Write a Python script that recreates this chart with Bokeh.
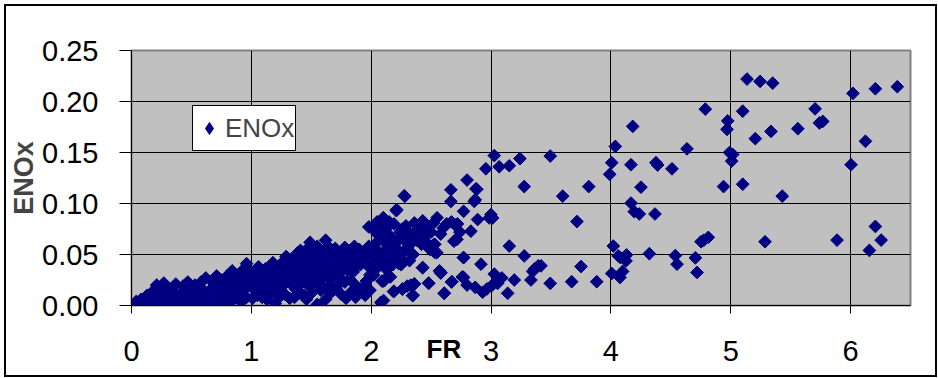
import math
from bokeh.plotting import figure
from bokeh.models import (ColumnDataSource, FixedTicker, NumeralTickFormatter, LinearAxis,
                          CustomJSTickFormatter, Legend, LegendItem, Range1d)
from bokeh.embed import file_html
from bokeh.resources import INLINE

# ---- data ----
fr_a = [0.02,0.06,0.10,0.14,0.18,0.22,0.26,0.30,0.34,0.38,0.42,0.46,0.50,0.55,0.60,0.64,0.68,0.72,0.76,0.80,0.84,0.88,0.92,0.96]
en_a = [0.001,0.002,0.001,0.003,0.001,0.002,0.000,0.003,0.001,0.004,0.002,0.003,0.004,0.002,0.005,0.001,0.004,0.003,0.006,0.002,0.005,0.007,0.004,0.008]
fr_b = [0.08,0.12,0.16,0.20,0.24,0.28,0.32,0.36,0.40,0.44,0.48,0.52,0.56,0.60,0.64,0.68,0.72,0.76,0.80,0.84,0.88,0.92,0.96]
en_b = [0.006,0.008,0.007,0.010,0.008,0.011,0.009,0.012,0.010,0.013,0.011,0.014,0.012,0.015,0.013,0.016,0.014,0.017,0.015,0.019,0.016,0.020,0.018]
fr_c = [0.17,0.21,0.27,0.31,0.37,0.43,0.47,0.53,0.58,0.62,0.67,0.71,0.75,0.79,0.84,0.87,0.90,0.94,0.96,0.99]
en_c = [0.013,0.020,0.022,0.017,0.021,0.019,0.023,0.020,0.023,0.027,0.024,0.029,0.025,0.028,0.034,0.027,0.031,0.036,0.041,0.030]
fr_c2 = [0.04,0.09,0.13,0.19,0.23,0.29,0.33,0.39,0.45,0.51,0.57,0.63,0.69,0.74,0.78,0.82,0.86,0.91,0.95,0.98]
en_c2 = [0.004,0.003,0.010,0.005,0.015,0.006,0.016,0.007,0.016,0.008,0.018,0.009,0.020,0.010,0.021,0.011,0.024,0.012,0.026,0.022]

fr_d = [1.01,1.05,1.09,1.13,1.17,1.20,1.24,1.28,1.32,1.36,1.40,1.44,1.46,1.50,1.55,1.58,1.62,1.66,1.71,1.75,1.79,1.83,1.87,1.91,1.95,1.99]
en_d = [0.007,0.010,0.008,0.006,0.012,0.002,0.009,0.011,0.007,0.008,0.013,0.010,0.006,0.012,0.001,0.015,0.006,0.012,0.016,0.011,0.007,0.013,0.008,0.014,0.010,0.015]
fr_e = [1.02,1.06,1.10,1.14,1.18,1.22,1.26,1.30,1.34,1.38,1.42,1.46,1.50,1.54,1.58,1.62,1.66,1.70,1.74,1.78,1.82,1.86,1.96,1.99]
en_e = [0.016,0.019,0.015,0.021,0.018,0.022,0.019,0.024,0.020,0.026,0.022,0.027,0.024,0.028,0.025,0.029,0.026,0.031,0.027,0.023,0.026,0.021,0.024,0.030]
fr_e2 = [1.04,1.08,1.16,1.21,1.25,1.33,1.37,1.45,1.49,1.53,1.57,1.61,1.65,1.69,1.73,1.77,1.81,1.85,1.89,1.97]
en_e2 = [0.022,0.024,0.026,0.028,0.014,0.029,0.016,0.033,0.018,0.034,0.020,0.036,0.019,0.037,0.021,0.036,0.034,0.033,0.049,0.050]
fr_e3 = [1.00,1.04,1.08,1.14,1.20,1.26,1.31,1.36,1.41,1.48,1.56,1.64,1.72,1.80,1.88,1.93]
en_e3 = [0.033,0.034,0.027,0.028,0.036,0.025,0.028,0.041,0.030,0.032,0.034,0.035,0.036,0.037,0.040,0.018]
fr_f = [1.03,1.07,1.11,1.15,1.19,1.23,1.27,1.31,1.35,1.39,1.43,1.47,1.51,1.55,1.59,1.63,1.67,1.71,1.75,1.79,1.83,1.87,1.91,1.95,1.98]
en_f = [0.027,0.031,0.026,0.033,0.029,0.034,0.031,0.036,0.033,0.038,0.035,0.040,0.037,0.041,0.038,0.042,0.039,0.043,0.040,0.044,0.041,0.045,0.040,0.044,0.038]
fr_g = [1.06,1.12,1.18,1.24,1.29,1.33,1.37,1.41,1.45,1.49,1.53,1.57,1.62,1.66,1.70,1.74,1.78,1.82,1.86,1.90,1.94,1.98,1.98]
en_g = [0.038,0.036,0.042,0.040,0.048,0.045,0.049,0.054,0.050,0.062,0.052,0.055,0.064,0.053,0.056,0.052,0.057,0.054,0.058,0.055,0.053,0.058,0.077]
fr_g2 = [1.27,1.35,1.39,1.43,1.47,1.51,1.55,1.59,1.64,1.68,1.72,1.76,1.80,1.84,1.88,1.92,1.96]
en_g2 = [0.043,0.047,0.052,0.046,0.056,0.047,0.058,0.048,0.058,0.049,0.050,0.047,0.049,0.048,0.051,0.050,0.049]

fr_h = [2.01,2.03,2.05,2.05,2.07,2.09,2.10,2.11,2.12,2.14,2.16,2.17,2.19,2.20,2.22,2.21,2.24,2.25,2.27,2.28,2.29,2.31,2.33,2.35,2.36,2.38,2.40,2.42,2.43,2.45,2.47,2.49,2.52,2.55,2.58,2.60,2.63,2.67,2.70,2.72,2.74]
en_h = [0.045,0.060,0.070,0.082,0.052,0.065,0.086,0.040,0.075,0.058,0.068,0.048,0.080,0.062,0.055,0.093,0.072,0.045,0.065,0.107,0.078,0.058,0.070,0.050,0.081,0.064,0.074,0.060,0.083,0.068,0.078,0.055,0.081,0.086,0.070,0.076,0.080,0.082,0.079,0.080,0.072]
fr_h2 = [2.02,2.04,2.08,2.12,2.15,2.18,2.23,2.26,2.30,2.34,2.37,2.41,2.44,2.46,2.50]
en_h2 = [0.055,0.072,0.078,0.062,0.082,0.058,0.064,0.075,0.068,0.062,0.072,0.068,0.074,0.062,0.072]
fr_h3 = [2.01,2.04,2.07,2.11,2.14,2.18,2.21,2.27,2.32]
en_h3 = [0.036,0.050,0.044,0.052,0.047,0.040,0.048,0.052,0.044]
fr_i = [2.02,2.06,2.09,2.08,2.10,2.13,2.16,2.19,2.23,2.25,2.26,2.30,2.33,2.35,2.36,2.43,2.48,2.53,2.53,2.57,2.58,2.61,2.67,2.69,2.71,2.76,2.77,2.80]
en_i = [0.030,0.038,0.024,0.003,0.024,0.035,0.028,0.014,0.041,0.040,0.016,0.019,0.020,0.010,0.021,0.037,0.022,0.052,0.060,0.034,0.032,0.012,0.023,0.063,0.065,0.028,0.047,0.020]

fr_j = [2.80,2.665,2.874,2.665,2.868,2.276,2.212,2.103,2.771,2.888,2.999,2.985,3.013,2.86,2.882,2.832,2.957,3.027,3.068,3.152,3.241,3.277,3.494,3.598,3.815,3.717,3.751,3.673,3.882,3.494,3.394,3.361,3.333,3.277,3.152,3.194,3.139,3.027,2.966,3.055,3.09,3.01,2.93,2.916,2.868,2.771,2.771,2.715,2.548,2.526,2.609,2.582,2.674,2.479,2.429,2.359,2.345,2.262,2.187,2.109,2.103,3.417,3.347]
en_j = [0.123,0.1134,0.1144,0.102,0.1037,0.1076,0.094,0.0858,0.0923,0.0843,0.0891,0.0858,0.0858,0.102,0.114,0.0729,0.134,0.147,0.136,0.137,0.144,0.1166,0.1465,0.1072,0.1166,0.0823,0.0382,0.0233,0.0233,0.0217,0.0389,0.0357,0.025,0.0486,0.0583,0.025,0.012,0.0308,0.0162,0.0217,0.027,0.020,0.013,0.0405,0.0178,0.047,0.0275,0.0648,0.0518,0.060,0.012,0.032,0.0233,0.0217,0.0372,0.0211,0.0097,0.0162,0.0136,0.0243,0.0049,0.0389,0.0334]

fr_k = [4.182,4.037,4.007,4.168,4.376,4.39,4.51,3.99,4.251,4.168,4.237,4.368,4.02,4.062,4.13,4.079,4.126,4.007,4.076,4.098,4.321,4.538,4.552,4.705,4.719,4.752,4.775,4.813,4.635,4.788,4.975,4.969,4.99,5.017,5.008,4.94,5.10,5.10,5.136,5.245,5.35,5.205,5.336,5.56,5.704,5.768,5.74,5.43,5.286,5.887,6.02,6.207,6.39,6.124,6.004,6.207,6.255,6.157,4.195]
en_k = [0.1756,0.156,0.140,0.138,0.140,0.1377,0.134,0.1286,0.116,0.1004,0.0897,0.0897,0.0583,0.0486,0.0496,0.047,0.0437,0.0314,0.0275,0.0334,0.0508,0.0489,0.0405,0.0467,0.0324,0.0625,0.064,0.0668,0.1536,0.1925,0.181,0.1727,0.150,0.148,0.1416,0.1166,0.1189,0.1905,0.222,0.2197,0.218,0.1636,0.1707,0.1733,0.1928,0.1805,0.179,0.1072,0.0625,0.0641,0.208,0.2125,0.2145,0.161,0.138,0.0775,0.0641,0.054,0.092]

fr = (fr_a + fr_b + fr_c + fr_c2 + fr_d + fr_e + fr_e2 + fr_e3 + fr_f + fr_g + fr_g2
      + fr_h + fr_h2 + fr_h3 + fr_i + fr_j + fr_k)
enox = (en_a + en_b + en_c + en_c2 + en_d + en_e + en_e2 + en_e3 + en_f + en_g + en_g2
        + en_h + en_h2 + en_h3 + en_i + en_j + en_k)

x_ticks = [0, 1, 2, 3, 4, 5, 6]
y_ticks = [0.0, 0.05, 0.10, 0.15, 0.20, 0.25]
series_name = "ENOx"
x_title = "FR"
x_title_at = [2.607]
y_title = "ENOx"

FONT = "Liberation Sans"
NAVY = "#000080"

p = figure(width=933, height=373, output_backend="svg", toolbar_location=None,
           x_range=Range1d(0, 6.5), y_range=Range1d(0, 0.25),
           min_border_left=125, min_border_right=29, min_border_top=44, min_border_bottom=74)
p.styles = {"border": "2px solid black", "margin-left": "4px", "margin-top": "4px"}
p.background_fill_color = "#C0C0C0"
p.border_fill_color = "white"
p.outline_line_color = "#808080"
p.outline_line_width = 2

src = ColumnDataSource(dict(x=fr, y=enox))
r = p.scatter("x", "y", source=src, marker="square", size=9, angle=math.pi / 4,
              fill_color=NAVY, line_color=NAVY, line_width=1)
# renderer used only for the legend symbol (repeats the first point, hidden under the cluster)
leg_src = ColumnDataSource(dict(x=fr[:1], y=enox[:1]))
r_leg = p.scatter("x", "y", source=leg_src, marker="diamond", size=9,
                  fill_color=NAVY, line_color=NAVY, line_width=1)

p.xgrid.ticker = FixedTicker(ticks=x_ticks)
p.ygrid.ticker = FixedTicker(ticks=y_ticks)
for g in (p.xgrid, p.ygrid):
    g.grid_line_color = "black"
    g.grid_line_width = 1

p.xaxis.ticker = FixedTicker(ticks=x_ticks)
p.yaxis.ticker = FixedTicker(ticks=y_ticks)
p.yaxis.formatter = NumeralTickFormatter(format="0.00")
for ax in (p.xaxis, p.yaxis):
    ax.major_label_text_font = FONT
    ax.major_label_text_font_size = "29px"
    ax.major_label_text_color = "black"
    ax.major_tick_in = 0
    ax.minor_tick_line_color = None
    ax.axis_line_color = "black"
    ax.major_tick_line_color = "black"
p.yaxis.major_tick_out = 12
p.xaxis.major_tick_out = 8
p.yaxis.major_label_standoff = 21
p.xaxis.major_label_standoff = 27

p.yaxis.axis_label = y_title
p.yaxis.axis_label_text_font = FONT
p.yaxis.axis_label_text_font_style = "bold"
p.yaxis.axis_label_text_font_size = "27px"
p.yaxis.axis_label_standoff = 0

# x title placed beside the tick labels, as in the original
fr_axis = LinearAxis(ticker=FixedTicker(ticks=x_title_at),
                     formatter=CustomJSTickFormatter(code="return '%s';" % x_title))
fr_axis.major_tick_out = 0
fr_axis.major_tick_in = 0
fr_axis.minor_tick_line_color = None
fr_axis.major_tick_line_color = None
fr_axis.axis_line_color = None
fr_axis.major_label_text_font = FONT
fr_axis.major_label_text_font_style = "bold"
fr_axis.major_label_text_font_size = "26px"
fr_axis.major_label_text_color = "black"
fr_axis.major_label_standoff = -30
p.add_layout(fr_axis, "below")

legend = Legend(items=[LegendItem(label=series_name, renderers=[r_leg])], location=(61, 154))
legend.border_line_color = "black"
legend.border_line_alpha = 1
legend.border_line_width = 1
legend.background_fill_color = "white"
legend.background_fill_alpha = 1
legend.label_text_font = FONT
legend.label_text_font_size = "26px"
legend.padding = 1
legend.glyph_width = 30
legend.glyph_height = 34
legend.label_height = 42
legend.label_standoff = 1
legend.margin = 0
p.add_layout(legend)

open("out.html", "w").write(file_html(p, INLINE))
